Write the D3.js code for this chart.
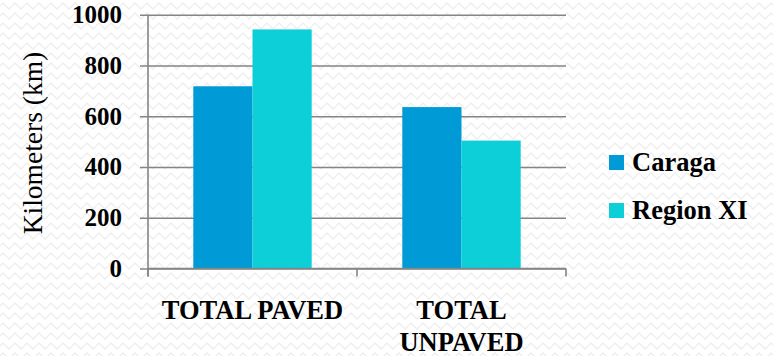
<!DOCTYPE html>
<html>
<head>
<meta charset="utf-8">
<script src="https://cdn.jsdelivr.net/npm/d3@7/dist/d3.min.js"></script>
<style>
  html, body { margin: 0; padding: 0; background: #ffffff; }
  svg { display: block; }
  text { font-family: "Liberation Serif", "Times New Roman", serif; fill: #000; }
</style>
</head>
<body>
<div id="chart"></div>
<script>
// Road lengths by surface type, in kilometers
const categories = ["TOTAL PAVED", "TOTAL UNPAVED"];
const seriesNames = ["Caraga", "Region XI"];
const caragaValues = [718, 636];
const regionXIValues = [942, 504];
const yTicks = [0, 200, 400, 600, 800, 1000];
const seriesColors = ["#009bd6", "#0ccfd8"];

const W = 773, H = 356;
const svg = d3.select("#chart").append("svg")
  .attr("width", W).attr("height", H);

// faint wavy background texture
const defs = svg.append("defs");
const pat = defs.append("pattern")
  .attr("id", "waves").attr("patternUnits", "userSpaceOnUse")
  .attr("width", 12).attr("height", 10);
pat.append("path")
  .attr("d", "M0,6 L3,3 L6,6 L9,9 L12,6")
  .attr("fill", "none").attr("stroke", "#eeeeee").attr("stroke-width", 1.4);
svg.append("rect").attr("width", W).attr("height", H).attr("fill", "#ffffff");
svg.append("rect").attr("width", W).attr("height", H).attr("fill", "url(#waves)");

const plotLeft = 148, plotRight = 566, plotTop = 14.7, plotBottom = 268.5;

const y = d3.scaleLinear().domain([0, 1000]).range([plotBottom, plotTop]);
const x0 = d3.scaleBand().domain(categories).range([plotLeft, plotRight]).padding(0);
const x1 = d3.scaleBand().domain(seriesNames).range([45.3, x0.bandwidth() - 45.3]).padding(0);
const color = d3.scaleOrdinal().domain(seriesNames).range(seriesColors);

const gridColor = "#858585";

// horizontal gridlines with left tick marks
const yAxis = d3.axisLeft(y).tickValues(yTicks).tickSize(-(plotRight - plotLeft + 8)).tickFormat("");
const gy = svg.append("g").attr("transform", `translate(${plotLeft - 8},0)`).call(yAxis);
gy.select(".domain").remove();
gy.selectAll(".tick line")
  .attr("stroke", gridColor).attr("stroke-width", 1.6);

// bars
const rows = categories.map((c, i) => ({
  category: c,
  values: [
    { name: seriesNames[0], value: caragaValues[i] },
    { name: seriesNames[1], value: regionXIValues[i] }
  ]
}));

svg.append("g").selectAll("g")
  .data(rows).join("g")
  .attr("transform", d => `translate(${x0(d.category)},0)`)
  .selectAll("rect")
  .data(d => d.values).join("rect")
  .attr("x", d => x1(d.name))
  .attr("width", x1.bandwidth())
  .attr("y", d => y(d.value))
  .attr("height", d => y(0) - y(d.value))
  .attr("fill", d => color(d.name));

// vertical axis line
svg.append("line")
  .attr("x1", plotLeft).attr("x2", plotLeft)
  .attr("y1", y(1000)).attr("y2", y(0) + 8)
  .attr("stroke", gridColor).attr("stroke-width", 1.6);

// baseline and category boundary ticks
svg.append("line")
  .attr("x1", plotLeft).attr("x2", plotRight)
  .attr("y1", y(0)).attr("y2", y(0))
  .attr("stroke", gridColor).attr("stroke-width", 1.6);
const boundaries = categories.map(c => x0(c)).concat([x0(categories[categories.length - 1]) + x0.bandwidth()]);
svg.append("g").selectAll("line")
  .data(boundaries).join("line")
  .attr("x1", d => d).attr("x2", d => d)
  .attr("y1", y(0)).attr("y2", y(0) + 8)
  .attr("stroke", gridColor).attr("stroke-width", 1.6);

// y tick labels
svg.append("g").selectAll("text")
  .data(yTicks).join("text")
  .attr("x", 122)
  .attr("y", d => y(d) + 8.5)
  .attr("text-anchor", "end")
  .attr("font-weight", "bold")
  .attr("font-size", 25)
  .text(d => d);

// y axis title
svg.append("text")
  .attr("transform", "translate(42,143) rotate(-90)")
  .attr("text-anchor", "middle")
  .attr("font-size", 27.5)
  .text("Kilometers (km)");

// category labels (wrapped)
const catLines = { "TOTAL PAVED": ["TOTAL PAVED"], "TOTAL UNPAVED": ["TOTAL", "UNPAVED"] };
const catG = svg.append("g").selectAll("text")
  .data(categories).join("text")
  .attr("x", d => x0(d) + x0.bandwidth() / 2)
  .attr("y", 319)
  .attr("text-anchor", "middle")
  .attr("font-weight", "bold")
  .attr("font-size", 26.5);
catG.selectAll("tspan")
  .data(d => catLines[d]).join("tspan")
  .attr("x", function () { return d3.select(this.parentNode).attr("x"); })
  .attr("dy", (d, i) => i === 0 ? 0 : 32)
  .text(d => d);

// legend
const legend = svg.append("g").selectAll("g")
  .data(seriesNames).join("g")
  .attr("transform", (d, i) => `translate(609,${155 + i * 48})`);
legend.append("rect")
  .attr("width", 15).attr("height", 15)
  .attr("fill", d => color(d));
legend.append("text")
  .attr("x", 23).attr("y", 16)
  .attr("font-weight", "bold")
  .attr("font-size", 26.5)
  .text(d => d);
</script>
</body>
</html>
